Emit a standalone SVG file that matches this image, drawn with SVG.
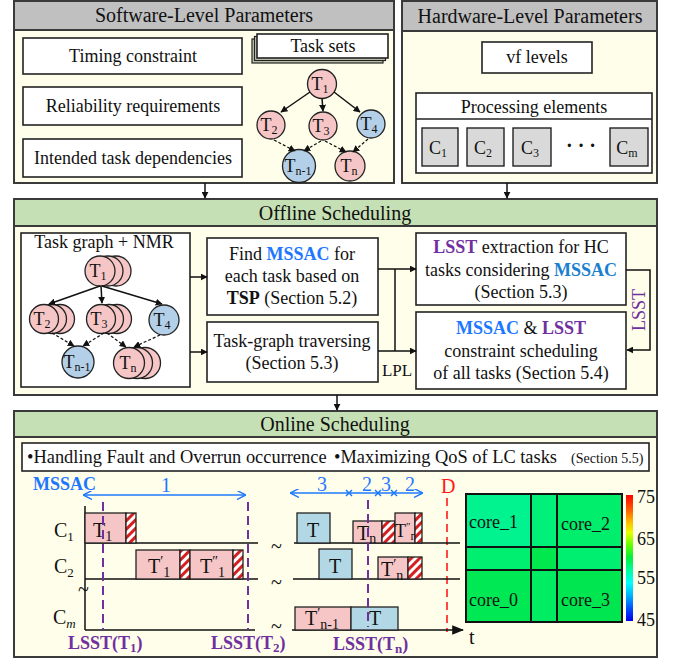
<svg xmlns="http://www.w3.org/2000/svg" width="680" height="661" viewBox="0 0 680 661">
<style>
text{font-family:"Liberation Serif","Times New Roman",serif;fill:#111}
.panel{fill:#fffeea;stroke:#3a3a3a;stroke-width:2}
.hg{fill:#c0c0c0;stroke:#3a3a3a;stroke-width:2}
.hgr{fill:#c5e0b4;stroke:#3a3a3a;stroke-width:2}
.box{fill:#fff;stroke:#222;stroke-width:1.6}
.gbox{fill:#d9d9d9;stroke:#222;stroke-width:1.4}
.pk{fill:#f6c6c6;stroke:#222;stroke-width:1.3}
.bl{fill:#b4cfe8;stroke:#222;stroke-width:1.3}
.bk{fill:#b2d8e6;stroke:#222;stroke-width:1.3}
.hat{fill:url(#hatch);stroke:#222;stroke-width:1.3}
.ln{stroke:#111;stroke-width:1.5;fill:none}
.dl{stroke:#111;stroke-width:1.2;fill:none;stroke-dasharray:3 2}
.pd{stroke:#7030a0;stroke-width:2;fill:none;stroke-dasharray:9 5}
.t18{font-size:18px}
.t20{font-size:20px}
.c{text-anchor:middle}
.mb{fill:#1e78ff;font-weight:bold}
.lp{fill:#7030a0;font-weight:bold}
.bln{stroke:#1e78ff;stroke-width:1.5;fill:none}
</style>
<defs>
<marker id="ah" viewBox="0 0 10 10" refX="9" refY="5" markerWidth="7" markerHeight="7" orient="auto-start-reverse" markerUnits="userSpaceOnUse">
<path d="M0,0 L10,5 L0,10 z" fill="#111"/>
</marker>
<marker id="ah2" viewBox="0 0 10 10" refX="9" refY="5" markerWidth="12" markerHeight="12" orient="auto-start-reverse" markerUnits="userSpaceOnUse">
<path d="M0,1 L10,5 L0,9 z" fill="#111"/>
</marker>
<marker id="ch" viewBox="0 0 10 10" refX="9" refY="5" markerWidth="9" markerHeight="9" orient="auto-start-reverse" markerUnits="userSpaceOnUse">
<path d="M0,0 L10,5 L0,10" fill="none" stroke="#1e78ff" stroke-width="1.6"/>
</marker>
<pattern id="hatch" patternUnits="userSpaceOnUse" width="6" height="6" patternTransform="rotate(45)">
<rect width="6" height="6" fill="#fff"/>
<rect width="3" height="6" fill="#d42020"/>
</pattern>
<linearGradient id="jet" x1="0" y1="0" x2="0" y2="1">
<stop offset="0" stop-color="#ff0000"/>
<stop offset="0.12" stop-color="#ff6000"/>
<stop offset="0.22" stop-color="#ffc000"/>
<stop offset="0.3" stop-color="#e8ff00"/>
<stop offset="0.4" stop-color="#60ff00"/>
<stop offset="0.5" stop-color="#00f040"/>
<stop offset="0.6" stop-color="#00ffa0"/>
<stop offset="0.7" stop-color="#00ffff"/>
<stop offset="0.8" stop-color="#00b0ff"/>
<stop offset="0.9" stop-color="#0050ff"/>
<stop offset="1" stop-color="#0000f0"/>
</linearGradient>
</defs>

<!-- Software panel -->
<g id="software">
<rect class="panel" x="14" y="1" width="380" height="182"/>
<rect class="hg" x="14" y="1" width="380" height="29"/>
<text class="c" x="204" y="22" font-size="20">Software-Level Parameters</text>
<rect class="box" x="23" y="38" width="219" height="36"/>
<text class="t18 c" x="133" y="62">Timing constraint</text>
<rect class="box" x="23" y="87" width="219" height="38"/>
<text class="t18 c" x="133" y="112">Reliability requirements</text>
<rect class="box" x="23" y="139" width="219" height="38"/>
<text class="t18 c" x="133" y="164">Intended task dependencies</text>
<g id="tasksets">
<rect x="252" y="39" width="131" height="24" fill="#c5cbb5" stroke="#222" stroke-width="1.2"/>
<rect x="254.5" y="36.5" width="131" height="24" fill="#c5cbb5" stroke="#222" stroke-width="1.2"/>
<rect class="box" x="257" y="34" width="131" height="24"/>
<text class="t18 c" x="323" y="52">Task sets</text>
</g>
</g>
<g id="sw-graph">
<g id="s-t1"><circle class="pk" cx="322" cy="84" r="14.5"/><text class="c t18" x="320" y="90">T<tspan font-size="12" dy="3">1</tspan></text></g>
<g id="s-t2"><circle class="pk" cx="271" cy="125" r="14"/><text class="c t18" x="269" y="131">T<tspan font-size="12" dy="3">2</tspan></text></g>
<g id="s-t3"><circle class="pk" cx="323" cy="126" r="14"/><text class="c t18" x="321" y="132">T<tspan font-size="12" dy="3">3</tspan></text></g>
<g id="s-t4"><circle class="bl" cx="371" cy="124" r="14"/><text class="c t18" x="369" y="130">T<tspan font-size="12" dy="3">4</tspan></text></g>
<g id="s-tn1"><circle class="bl" cx="299" cy="166" r="16.5"/><text class="c t18" x="298" y="172">T<tspan font-size="12" dy="3">n-1</tspan></text></g>
<g id="s-tn"><circle class="pk" cx="350" cy="166" r="15"/><text class="c t18" x="349" y="172">T<tspan font-size="12" dy="3">n</tspan></text></g>
</g>

<!-- Hardware panel -->
<g id="hardware">
<rect class="panel" x="402" y="1" width="255" height="182"/>
<rect class="hg" x="402" y="1" width="255" height="30"/>
<text class="c" x="530" y="23" font-size="20">Hardware-Level Parameters</text>
<rect class="box" x="482" y="42" width="110" height="31"/>
<text class="t18 c" x="537" y="63">vf levels</text>
<rect class="box" x="416" y="93" width="236" height="80"/>
<line x1="416" y1="119" x2="652" y2="119" stroke="#222" stroke-width="1.6"/>
<text class="t18 c" x="534" y="113">Processing elements</text>
<g id="c1"><rect class="gbox" x="422" y="128" width="36" height="38"/><text class="t18 c" x="438" y="154">C<tspan font-size="12" dy="3">1</tspan></text></g>
<g id="c2"><rect class="gbox" x="467" y="128" width="37" height="38"/><text class="t18 c" x="483" y="154">C<tspan font-size="12" dy="3">2</tspan></text></g>
<g id="c3"><rect class="gbox" x="513" y="128" width="38" height="38"/><text class="t18 c" x="530" y="154">C<tspan font-size="12" dy="3">3</tspan></text></g>
<text class="t20 c" x="581" y="152" font-weight="bold">· · ·</text>
<g id="cm"><rect class="gbox" x="610" y="128" width="38" height="38"/><text class="t18 c" x="627" y="154">C<tspan font-size="12" dy="3">m</tspan></text></g>
</g>

<!-- Offline -->
<g id="offline">
<rect class="panel" x="14" y="199" width="643" height="196"/>
<rect class="hgr" x="14" y="199" width="643" height="27"/>
<text class="c" x="335" y="220" font-size="20">Offline Scheduling</text>
</g>
<g id="nmr">
<rect class="box" x="21" y="233" width="169" height="154"/>
<text class="t18 c" x="104" y="248">Task graph + NMR</text>
<g id="n-t1"><circle class="pk" cx="116" cy="271" r="15"/><circle class="pk" cx="108" cy="271" r="15"/><circle class="pk" cx="100" cy="271" r="15"/><text class="c t18" x="98" y="277">T<tspan font-size="12" dy="3">1</tspan></text></g>
<g id="n-t2"><circle class="pk" cx="60" cy="319" r="14.5"/><circle class="pk" cx="52" cy="319" r="14.5"/><circle class="pk" cx="44" cy="319" r="14.5"/><text class="c t18" x="42" y="325">T<tspan font-size="12" dy="3">2</tspan></text></g>
<g id="n-t3"><circle class="pk" cx="117" cy="319" r="14.5"/><circle class="pk" cx="109" cy="319" r="14.5"/><circle class="pk" cx="101" cy="319" r="14.5"/><text class="c t18" x="99" y="325">T<tspan font-size="12" dy="3">3</tspan></text></g>
<g id="n-t4"><circle class="bl" cx="164" cy="320" r="15"/><text class="c t18" x="162" y="326">T<tspan font-size="12" dy="3">4</tspan></text></g>
<g id="n-tn1"><circle class="bl" cx="78" cy="362" r="16"/><text class="c t18" x="77" y="368">T<tspan font-size="12" dy="3">n-1</tspan></text></g>
<g id="n-tn"><circle class="pk" cx="145" cy="363" r="15.5"/><circle class="pk" cx="137" cy="363" r="15.5"/><circle class="pk" cx="129" cy="363" r="15.5"/><text class="c t18" x="128" y="369">T<tspan font-size="12" dy="3">n</tspan></text></g>
</g>
<g id="find">
<rect class="box" x="207" y="238" width="171" height="77"/>
<text class="t18 c" x="292" y="260">Find <tspan class="mb">MSSAC</tspan> for</text>
<text class="t18 c" x="292" y="282">each task based on</text>
<text class="t18 c" x="292" y="304"><tspan font-weight="bold">TSP</tspan> (Section 5.2)</text>
</g>
<g id="traverse">
<rect class="box" x="207" y="322" width="171" height="60"/>
<text class="t18 c" x="292" y="347">Task-graph traversing</text>
<text class="t18 c" x="292" y="369">(Section 5.3)</text>
</g>
<g id="lsstext">
<rect class="box" x="416" y="233" width="210" height="72"/>
<text class="t18 c" x="521" y="253"><tspan class="lp">LSST</tspan> extraction for HC</text>
<text class="t18 c" x="521" y="276">tasks considering <tspan font-weight="bold" fill="#1a7fd0">MSSAC</tspan></text>
<text class="t18 c" x="521" y="298">(Section 5.3)</text>
</g>
<g id="constraint">
<rect class="box" x="416" y="312" width="210" height="77"/>
<text class="t18 c" x="521" y="334"><tspan class="mb">MSSAC</tspan> &amp; <tspan class="lp">LSST</tspan></text>
<text class="t18 c" x="521" y="357">constraint scheduling</text>
<text class="t18 c" x="521" y="379">of all tasks (Section 5.4)</text>
</g>

<!-- Online -->
<g id="online">
<rect class="panel" x="14" y="411" width="643" height="246"/>
<rect class="hgr" x="14" y="411" width="643" height="26"/>
<text class="c" x="335" y="431" font-size="20">Online Scheduling</text>
<rect class="box" x="22" y="443" width="627" height="28"/>
<text x="27" y="463" font-size="18.4">•Handling Fault and Overrun occurrence<tspan x="334">•Maximizing QoS of LC tasks</tspan><tspan x="571" font-size="14">(Section 5.5)</tspan></text>
</g>

<g id="timing">
<text class="mb" x="33" y="490" font-size="18">MSSAC</text>
<line class="bln" x1="84" y1="495" x2="245" y2="495" marker-start="url(#ch)" marker-end="url(#ch)"/>
<text class="c t20" x="166" y="492" style="fill:#1e78ff">1</text>
<line class="bln" x1="291" y1="493" x2="422" y2="493" marker-start="url(#ch)" marker-end="url(#ch)"/>
<g stroke="#1e78ff" stroke-width="1.5">
<path d="M346,490 l6,6 M352,490 l-6,6"/>
<path d="M375,490 l6,6 M381,490 l-6,6"/>
<path d="M391,490 l6,6 M397,490 l-6,6"/>
</g>
<text class="c t20" x="322" y="491" style="fill:#1e78ff">3</text>
<text class="c t20" x="367" y="491" style="fill:#1e78ff">2</text>
<text class="c t20" x="386" y="491" style="fill:#1e78ff">3</text>
<text class="c t20" x="410" y="491" style="fill:#1e78ff">2</text>
<text x="441" y="493" font-size="20" style="fill:#ff1a1a">D</text>
<line x1="447" y1="498" x2="447" y2="632" stroke="#ff1a1a" stroke-width="1.6" stroke-dasharray="8 5"/>

<text class="t20" x="54" y="537">C<tspan font-size="13" dy="4">1</tspan></text>
<text class="t20" x="54" y="573">C<tspan font-size="13" dy="4">2</tspan></text>
<text class="t20" x="53" y="624">C<tspan font-size="13" dy="4" font-style="italic">m</tspan></text>

<line class="ln" x1="85" y1="506" x2="85" y2="630"/>
<text class="t20" x="78" y="596">~</text>
<line class="ln" x1="85" y1="543" x2="258" y2="543"/>
<line class="ln" x1="85" y1="579" x2="258" y2="579"/>
<line class="ln" x1="85" y1="630" x2="255" y2="630"/>
<line class="ln" x1="294" y1="543" x2="460" y2="543"/>
<line class="ln" x1="293" y1="579" x2="460" y2="579"/>
<line class="ln" x1="292" y1="630" x2="463" y2="630" marker-end="url(#ah2)"/>
<text class="t20" x="469" y="644">t</text>
<text class="t20" x="271" y="553">~</text>
<text class="t20" x="271" y="589">~</text>
<text class="t20" x="271" y="633">~</text>

<rect class="pk" x="85" y="513" width="41" height="30"/>
<rect class="hat" x="126" y="513" width="10" height="30"/>
<text class="t20" x="93" y="537">T<tspan font-size="14" dy="4">1</tspan></text>
<rect class="pk" x="136" y="550" width="44" height="29"/>
<rect class="hat" x="180" y="550" width="10" height="29"/>
<text class="t20" x="148" y="573">T<tspan font-size="14" dy="-7">′</tspan><tspan font-size="14" dy="11">1</tspan></text>
<rect class="pk" x="190" y="550" width="43" height="29"/>
<rect class="hat" x="233" y="550" width="10" height="29"/>
<text class="t20" x="200" y="573">T<tspan font-size="14" dy="-7">″</tspan><tspan font-size="14" dy="11">1</tspan></text>

<rect class="bk" x="297" y="513" width="33" height="30"/>
<text class="t20 c" x="313" y="537">T</text>
<rect class="pk" x="353" y="521" width="29" height="22"/>
<text class="t20" x="357" y="540">T<tspan font-size="14" dy="3">n</tspan></text>
<rect class="hat" x="382" y="521" width="13" height="22"/>
<rect class="pk" x="395" y="513" width="20" height="30"/>
<text x="395" y="537" font-size="18">T<tspan font-size="11" dy="-7">″</tspan><tspan font-size="12" dy="10">n</tspan></text>
<rect class="hat" x="415" y="513" width="7" height="30"/>

<rect class="bk" x="319" y="549" width="33" height="30"/>
<text class="t20 c" x="335" y="573">T</text>
<rect class="pk" x="378" y="557" width="30" height="22"/>
<text class="t20" x="381" y="576">T<tspan font-size="14" dy="-7">′</tspan><tspan font-size="14" dy="11">n</tspan></text>
<rect class="hat" x="408" y="557" width="14" height="22"/>

<rect class="pk" x="295" y="607" width="56" height="23"/>
<text class="t20" x="305" y="625">T<tspan font-size="14" dy="-7">′</tspan><tspan font-size="14" dy="11">n-1</tspan></text>
<rect class="bk" x="351" y="607" width="47" height="23"/>
<text class="t20" x="369" y="625">T</text>

<line class="pd" x1="103" y1="502" x2="103" y2="630"/>
<line class="pd" x1="248" y1="502" x2="248" y2="630"/>
<line class="pd" x1="368" y1="500" x2="368" y2="627"/>
<text class="lp" x="68" y="649" font-size="18">LSST(T<tspan font-size="13" dy="3">1</tspan><tspan dy="-3">)</tspan></text>
<text class="lp" x="211" y="649" font-size="18">LSST(T<tspan font-size="13" dy="3">2</tspan><tspan dy="-3">)</tspan></text>
<text class="lp" x="333" y="650" font-size="18">LSST(T<tspan font-size="13" dy="3">n</tspan><tspan dy="-3">)</tspan></text>
</g>

<g id="heatmap">
<rect x="466" y="494" width="65" height="53" fill="#00f38e"/>
<rect x="531" y="494" width="26" height="53" fill="#00f07a"/>
<rect x="557" y="494" width="65" height="53" fill="#00ee6c"/>
<rect x="466" y="547" width="156" height="23" fill="#00ef70"/>
<rect x="531" y="547" width="26" height="23" fill="#00e84e"/>
<rect x="466" y="570" width="65" height="52" fill="#00e854"/>
<rect x="531" y="570" width="26" height="52" fill="#00ec62"/>
<rect x="557" y="570" width="65" height="52" fill="#00e650"/>
<g stroke="#111" stroke-width="2" fill="none">
<rect x="466" y="494" width="156" height="128"/>
<line x1="531" y1="494" x2="531" y2="622"/>
<line x1="557" y1="494" x2="557" y2="622"/>
<line x1="466" y1="547" x2="622" y2="547"/>
<line x1="466" y1="570" x2="622" y2="570"/>
</g>
<text class="t18" x="469" y="528">core_1</text>
<text class="t18" x="561" y="530">core_2</text>
<text class="t18" x="469" y="606">core_0</text>
<text class="t18" x="561" y="606">core_3</text>
<rect x="626" y="495" width="7" height="126" fill="url(#jet)"/>
<text class="t18" x="637" y="503">75</text>
<text class="t18" x="637" y="545">65</text>
<text class="t18" x="637" y="584">55</text>
<text class="t18" x="637" y="626">45</text>
</g>

<g id="connectors">
<line class="ln" x1="205" y1="183" x2="205" y2="198" marker-end="url(#ah)"/>
<line class="ln" x1="507" y1="183" x2="507" y2="198" marker-end="url(#ah)"/>
<line class="ln" x1="337" y1="395" x2="337" y2="410" marker-end="url(#ah)"/>
<line class="ln" x1="310" y1="92" x2="281" y2="112" marker-end="url(#ah)"/>
<line class="ln" x1="322" y1="98" x2="323" y2="111" marker-end="url(#ah)"/>
<line class="ln" x1="334" y1="92" x2="360" y2="112" marker-end="url(#ah)"/>
<line class="dl" x1="274" y1="140" x2="295" y2="151" marker-end="url(#ah)"/>
<line class="dl" x1="321" y1="141" x2="304" y2="151" marker-end="url(#ah)"/>
<line class="dl" x1="325" y1="141" x2="346" y2="152" marker-end="url(#ah)"/>
<line class="dl" x1="368" y1="139" x2="353" y2="152" marker-end="url(#ah)"/>
<line class="ln" x1="100" y1="286" x2="49" y2="304" marker-end="url(#ah)"/>
<line class="ln" x1="101" y1="286" x2="102" y2="303" marker-end="url(#ah)"/>
<line class="ln" x1="102" y1="286" x2="162" y2="304" marker-end="url(#ah)"/>
<line class="dl" x1="52" y1="333" x2="74" y2="346" marker-end="url(#ah)"/>
<line class="dl" x1="104" y1="333" x2="83" y2="346" marker-end="url(#ah)"/>
<line class="dl" x1="107" y1="333" x2="126" y2="347" marker-end="url(#ah)"/>
<line class="dl" x1="160" y1="335" x2="134" y2="347" marker-end="url(#ah)"/>
<line class="ln" x1="190" y1="277" x2="207" y2="277" marker-end="url(#ah)"/>
<line class="ln" x1="190" y1="352" x2="207" y2="352" marker-end="url(#ah)"/>
<line class="ln" x1="378" y1="269" x2="416" y2="269" marker-end="url(#ah)"/>
<line class="ln" x1="395" y1="269" x2="395" y2="351"/>
<line class="ln" x1="378" y1="351" x2="416" y2="351" marker-end="url(#ah)"/>
<text x="397" y="376" class="c" font-size="17">LPL</text>
<polyline class="ln" points="626,270 650,270 650,350 627,350" marker-end="url(#ah)"/>
<text x="0" y="0" font-size="18" class="c" transform="translate(645,310) rotate(-90)" style="fill:#7030a0">LSST</text>
</g>
</svg>
